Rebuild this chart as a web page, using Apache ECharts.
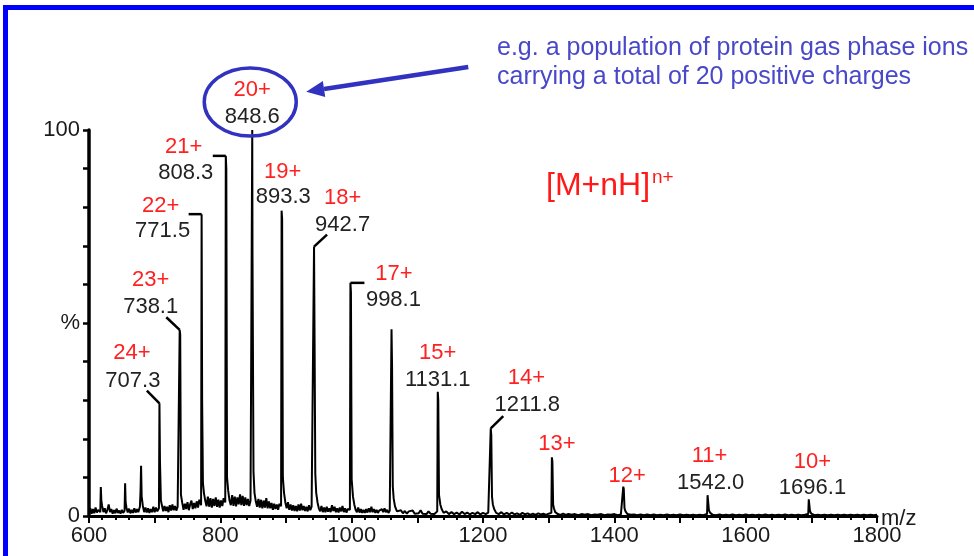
<!DOCTYPE html>
<html><head><meta charset="utf-8">
<script src="https://cdn.jsdelivr.net/npm/echarts@6/dist/echarts.min.js"></script>
<style>html,body{margin:0;padding:0;background:#fff}#c{width:974px;height:556px}</style>
</head><body><div id="c"></div>
<script>
// ---- data ----
const chargeLabels = ['24+','23+','22+','21+','20+','19+','18+','17+','15+','14+','13+','12+','11+','10+'];
const mzLabels = ['707.3','738.1','771.5','808.3','848.6','893.3','942.7','998.1','1131.1','1211.8','','','1542.0','1696.1'];
const peakMz = [707.3,738.1,771.5,808.3,848.6,893.3,942.7,998.1,1131.1,1211.8,1304.9,1413.6,1542.0,1696.1];
const peakPct = [29.2,48.2,78.2,93.3,100,79.1,69.8,60.4,32.2,22.7,15.2,7.6,5.4,4.3];
const xTickLabels = [600,800,1000,1200,1400,1600,1800];
const yTickLabels = {0:'0',50:'%',100:'100'};
// baseline, shoulders, tails and unlabeled peaks (m/z, %)
const trace = [
[600,0.8],[602,2.0],[604,0.6],[606,1.8],[608,0.7],[610,2.2],[612,0.9],[614,1.6],[617.2,1.0],[618,7.5],[618.8,4.0],[620,2.6],[622,1.0],[624,2.0],[626,0.7],[628,1.6],[630,3.0],[632,1.0],[634,1.8],[636,0.6],[638,1.5],[640,0.7],[642,1.9],[644,0.8],[646,1.4],[648,0.6],[650,1.6],
[652,0.8],[654.2,1.4],[655,8.5],[655.8,3.5],[657,2.2],[659,0.9],[661,1.9],[663,0.7],[665,1.6],[667,0.8],[669,2.0],[671,0.9],[673,1.8],[675,1.0],
[677.5,2.4],[678.5,6.5],[679.3,13.0],[680.2,5.0],[682,2.6],[684,1.0],[686,2.2],[688,0.9],[690,2.0],[692,0.8],[694,1.8],[696,1.0],[698,2.4],[700,1.0],[702,2.2],[704,1.2],[706.5,2.0],
[708.1,14],[709.5,4],[711,2.8],[713,1.2],[715,2.6],[717,1.3],[719,2.4],[721,1.0],[723,2.8],[725,1.4],[727,3.0],[729,1.5],[731,2.6],[733,1.4],[735,2.4],[737.3,2.0],
[738.9,47],[740,5.5],[742,3.4],[744,1.6],[746,3.2],[748,1.8],[750,3.6],[752,1.5],[754,3.0],[756,4.0],[758,1.8],[760,3.4],[762,2.0],[764,3.8],[766,2.2],[768,4.2],[770.7,2.8],
[772.3,29.6],[773.5,8.5],[775,6],[777,4],[779,2.5],[781,5.0],[783,2.4],[785,4.6],[787,2.2],[789,4.4],[791,2.6],[793,4.8],[795,2.4],[797,4.2],[799,2.2],[801,4.0],[803,2.6],[805,4.6],[807.5,3.5],
[809.1,90],[810.2,10],[812,6.5],[814,4],[816,2.8],[818,5.4],[820,2.6],[822,5.0],[824,2.5],[826,4.8],[828,3.0],[830,5.6],[832,2.8],[834,5.2],[836,2.6],[838,4.8],[840,2.8],[842,4.4],[844,2.6],[846,4.0],[848.2,3.5],
[849.0,67],[850.5,11.5],[852,6],[854,3.8],[856,2.4],[858,4.4],[860,2.2],[862,4.2],[864,2.0],[866,4.0],[868,2.2],[870,4.6],[872,2.0],[874,3.8],[876,2.0],[878,3.4],[880,1.6],[882,3.2],[884,1.8],[886,3.0],[888,1.6],[890,3.2],[892.5,2.5],
[894.1,77],[895.2,10],[897,6],[899,3.5],[901,2.0],[903,3.6],[905,1.6],[907,3.0],[909,1.4],[911,2.8],[913,1.3],[915,2.6],[917,1.2],[919,3.0],[921,1.4],[923,3.2],[925,1.5],[927,2.6],[929,1.3],[931,2.4],[933,1.2],[935,2.8],[937,1.5],[939,2.4],[941.9,2.0],
[943.5,46],[944.6,11],[946,6],[948,3.5],[950,2.0],[952,1.2],[954,2.6],[956,1.0],[958,2.2],[960,1.0],[962,2.4],[964,1.1],[966,2.0],[968,1.0],[970,2.8],[972,1.3],[974,2.4],[976,1.0],[978,2.0],[980,0.9],[982,2.2],[984,1.2],[986,2.6],[988,1.0],[990,2.0],[992,0.9],[994,1.8],[997.3,1.6],
[998.9,58],[1000,9.5],[1002,5],[1004,3],[1006,1.6],[1008,1.0],[1010,2.2],[1012,0.9],[1014,1.8],[1016,0.8],[1018,1.6],[1020,0.8],[1022,1.8],[1024,0.9],[1026,2.0],[1028,1.0],[1030,2.4],[1032,1.0],[1034,1.8],[1036,0.8],[1038,1.6],[1040,0.8],[1042,1.4],[1044,0.9],[1046,1.8],[1048,1.0],[1050,2.0],[1052,1.0],[1054,1.6],[1056,0.8],[1058,1.4],[1059.9,1.5],
[1060.7,48.4],[1061.5,39],[1062.6,7.7],[1064,4.5],[1066,2.5],[1069,1.2],[1072,0.8],[1075,1.5],[1078,0.7],[1081,1.3],[1084,0.6],[1087,1.2],[1090,0.7],[1093,1.4],[1096,0.6],[1099,1.1],[1102,0.7],[1105,1.5],[1108,0.6],[1111,1.0],[1114,0.5],[1117,1.2],[1120,0.6],[1123,1.0],[1126,0.5],[1130.3,1.2],
[1131.9,30],[1133,5.5],[1135,3],[1137,1.8],[1140,0.8],[1144,1.2],[1148,0.5],[1152,1.0],[1156,0.5],[1160,0.9],[1164,0.4],[1168,1.1],[1172,0.5],[1176,0.9],[1180,0.4],[1184,0.8],[1188,0.5],[1192,1.0],[1196,0.4],[1200,0.8],[1204,0.5],[1208,0.9],[1211,1.0],
[1212.6,21],[1213.7,5],[1215,3],[1217,1.8],[1220,0.8],[1224,0.5],[1228,1.0],[1232,0.4],[1236,0.8],[1240,0.4],[1244,0.9],[1248,0.4],[1252,0.7],[1256,0.3],[1260,0.8],[1264,0.4],[1268,0.7],[1272,0.3],[1276,0.6],[1280,0.3],[1284,0.7],[1288,0.4],[1292,0.6],[1296,0.3],[1300,0.6],[1304.1,0.8],
[1305.7,14],[1306.8,3],[1308,2],[1310,1.0],[1314,0.5],[1318,0.3],[1322,0.6],[1326,0.3],[1330,0.5],[1335,0.3],[1340,0.5],[1345,0.2],[1350,0.5],[1355,0.3],[1360,0.5],[1365,0.2],[1370,0.4],[1375,0.3],[1380,0.5],[1385,0.2],[1390,0.4],[1395,0.3],[1400,0.5],[1405,0.2],[1410,0.4],[1412.8,0.6],
[1414.4,7],[1415.5,2],[1417,1.2],[1420,0.5],[1425,0.3],[1430,0.4],[1435,0.2],[1440,0.4],[1445,0.2],[1450,0.4],[1455,0.2],[1460,0.4],[1465,0.2],[1470,0.3],[1475,0.2],[1480,0.4],[1485,0.2],[1490,0.3],[1495,0.2],[1500,0.4],[1505,0.2],[1510,0.3],[1515,0.2],[1520,0.3],[1525,0.2],[1530,0.3],[1535,0.2],[1541.2,0.5],
[1542.8,5],[1544,1.5],[1546,0.8],[1550,0.3],[1555,0.2],[1560,0.4],[1565,0.2],[1570,0.3],[1575,0.2],[1580,0.4],[1585,0.2],[1590,0.3],[1595,0.2],[1600,0.4],[1605,0.2],[1610,0.3],[1615,0.2],[1620,0.3],[1625,0.2],[1630,0.4],[1635,0.2],[1640,0.3],[1645,0.2],[1650,0.3],[1655,0.2],[1660,0.4],[1665,0.2],[1670,0.3],[1675,0.2],[1680,0.3],[1685,0.2],[1690,0.3],[1695.3,0.5],
[1696.9,4.0],[1698,1.2],[1700,0.6],[1705,0.2],[1710,0.3],[1715,0.2],[1720,0.3],[1725,0.2],[1730,0.3],[1735,0.2],[1740,0.3],[1745,0.2],[1750,0.3],[1755,0.2],[1760,0.3],[1765,0.2],[1770,0.3],[1775,0.2],[1780,0.3],[1785,0.2],[1790,0.3],[1795,0.2],[1800,0.3]
];

// ---- layout (pixel offsets from each peak apex) ----
const labelLayout = [
 {c:[-27.6,-50], m:[-26.6,-22.6], lead:[[-12.6,-12.6]]},
 {c:[-29,-50], m:[-29,-23.3], lead:[[-13.4,-12.7]]},
 {c:[-41,-8.3], m:[-39,16.7], lead:[[-13,0]]},
 {c:[-42,-8.7], m:[-40,17], lead:[[-13,0]]},
 {c:[0,-40], m:[0,-13]},
 {c:[1,-39], m:[1.7,-14]},
 {c:[28.6,-48.4], m:[28.6,-21.7], lead:[[13,-12]]},
 {c:[43.6,-9.4], m:[43,16.6], lead:[[14,0]]},
 {c:[0,-38.7], m:[0,-11.7]},
 {c:[35.6,-50], m:[36.5,-23.3], lead:[[12.5,-12.3]]},
 {c:[5,-13]},
 {c:[4,-11]},
 {c:[2,-39], m:[3,-12.3]},
 {c:[3.7,-37.6], m:[3.7,-11]}
];

const FONT = '"Liberation Sans", Arial, sans-serif';
const data = trace.concat(peakMz.map((m,i)=>[m,peakPct[i]])).sort((a,b)=>a[0]-b[0]);

const chart = echarts.init(document.getElementById('c'), null, {renderer:'canvas'});
chart.setOption({
  animation:false,
  backgroundColor:'#fff',
  grid:{left:89,right:97,top:130,bottom:40,containLabel:false,outerBoundsMode:'none'},
  xAxis:{type:'value',min:600,max:1800,interval:100,
    axisLine:{lineStyle:{color:'#000',width:3}},
    axisTick:{show:true,length:7,lineStyle:{color:'#000',width:2}},
    minorTick:{show:true,splitNumber:5,length:4,lineStyle:{color:'#000',width:2}},
    splitLine:{show:false},
    axisLabel:{fontSize:22,color:'#1a1a1a',fontFamily:FONT,margin:9,
      formatter:v=>xTickLabels.indexOf(v)>=0?String(v):''}},
  yAxis:{type:'value',min:0,max:100,interval:10,
    axisLine:{show:true,lineStyle:{color:'#000',width:3.5}},
    axisTick:{show:true,length:6,lineStyle:{color:'#000',width:2.5}},
    splitLine:{show:false},
    axisLabel:{fontSize:22,color:'#1a1a1a',fontFamily:FONT,margin:9,
      formatter:v=>yTickLabels[v]!==undefined?yTickLabels[v]:''}},
  series:[{type:'line',data:data,showSymbol:false,symbol:'none',
    lineStyle:{color:'#000',width:2},z:3}]
});

function txt(s,x,y,fill,size,align){
  return {type:'text',z:10,style:{text:s,x:x,y:y,fill:fill,font:size+'px '+FONT,
    align:align||'center',verticalAlign:'middle',textAlign:align||'center',textVerticalAlign:'middle'}};
}
const g = [];
// blue frame
g.push({type:'rect',shape:{x:3,y:5,width:5,height:560},style:{fill:'#0000ff'},z:20});
g.push({type:'rect',shape:{x:3,y:5,width:980,height:5},style:{fill:'#0000ff'},z:20});
// annotation
g.push(txt('e.g. a population of protein gas phase ions',497,48,'#4848c8',25,'left'));
g.push(txt('carrying a total of 20 positive charges',497,77,'#4848c8',25,'left'));
g.push(txt('[M+nH]',546,186,'#ff1a1a',32,'left'));
g.push(txt('n+',652,178,'#ff1a1a',19,'left'));
// axis name at end of x axis
const endPx = chart.convertToPixel({gridIndex:0},[1800,0]);
g.push(txt('m/z',endPx[0]+4,endPx[1]+3,'#1a1a1a',22,'left'));

peakMz.forEach((m,i)=>{
  const p = chart.convertToPixel({gridIndex:0},[m,peakPct[i]]);
  const L = labelLayout[i];
  if (L.lead) {
    g.push({type:'polyline',z:6,shape:{points:[[p[0],p[1]]].concat(L.lead.map(d=>[p[0]+d[0],p[1]+d[1]]))},
      style:{stroke:'#000',lineWidth:2.5,fill:null}});
  }
  g.push(txt(chargeLabels[i],p[0]+L.c[0],p[1]+L.c[1],'#ff2020',22));
  if (L.m) g.push(txt(mzLabels[i],p[0]+L.m[0],p[1]+L.m[1],'#222',22));
  if (i===4) {
    // circle around the 20+ label and arrow pointing at it
    const cx = p[0]-2, cy = p[1]-28;
    g.push({type:'ellipse',z:8,shape:{cx:cx,cy:cy,rx:46,ry:34},style:{fill:null,stroke:'#3232c0',lineWidth:3.5}});
    const tip=[cx+56,cy-10.3], tail=[cx+218,cy-35];
    const dx=tail[0]-tip[0], dy=tail[1]-tip[1], len=Math.hypot(dx,dy), ux=dx/len, uy=dy/len;
    const b=[tip[0]+ux*18,tip[1]+uy*18];
    g.push({type:'line',z:8,shape:{x1:tail[0],y1:tail[1],x2:b[0],y2:b[1]},style:{stroke:'#3232c0',lineWidth:4.5}});
    g.push({type:'polygon',z:8,shape:{points:[tip,[b[0]-uy*8,b[1]+ux*8],[b[0]+uy*8,b[1]-ux*8]]},style:{fill:'#3232c0'}});
  }
});
chart.setOption({graphic:g});
</script></body></html>
